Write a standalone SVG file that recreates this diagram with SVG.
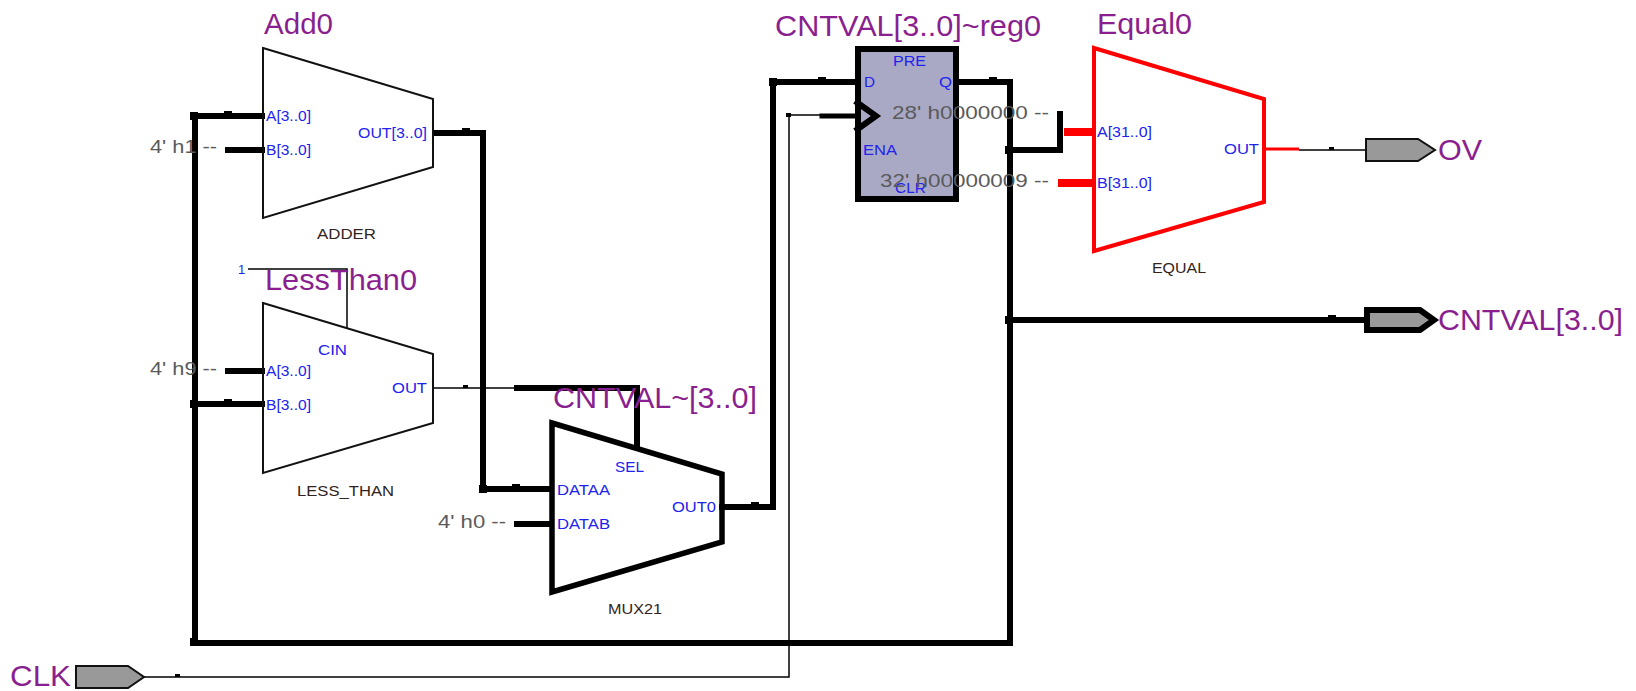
<svg xmlns="http://www.w3.org/2000/svg" width="1636" height="691" viewBox="0 0 1636 691">
<style>
text{font-family:"Liberation Sans",Arial,sans-serif}
.name{font-size:29px;fill:#8a1f8f}
.port{font-size:14.5px;fill:#2222ee}
.val{font-size:18.5px;fill:#5a5a5a}
.type{font-size:14px;fill:#33231c}
.body{fill:none;stroke:#111;stroke-width:2}
.bodyb{fill:none;stroke:#000;stroke-width:5.5}
.bodyr{fill:none;stroke:#f00;stroke-width:4;stroke-linejoin:miter}
.w1{fill:none;stroke:#000;stroke-width:1.5}
.w3{fill:none;stroke:#000;stroke-width:6;stroke-linecap:square}
.wr{fill:none;stroke:#f00;stroke-width:8}
.tick{fill:#000}
.pin{fill:#999;stroke:#111;stroke-width:2}
.pinb{fill:#999;stroke:#000;stroke-width:6}
</style>
<rect width="1636" height="691" fill="#fff"/>
<g id="connectors">
<path class="w3" d="M483 133H437M483 133V489H550"/>
<path class="w3" d="M1010 82V643H195V116H262M195 404H262"/>
<path class="w3" d="M958 82H1010M1010 150H1060V114"/>
<path class="w3" d="M1010 320H1366"/>
<path class="w3" d="M773 507V82H855"/>
<path class="w3" d="M722 507H773"/>
<path class="w3" d="M228 150H262M228 371H262M517 524H550"/>
<path class="w1" d="M248 269H347V328"/>
<path class="w1" d="M433 388H516"/>
<path class="w3" d="M517 388H637V444"/>
<path class="w1" d="M144 677H789V115H822"/>
<path class="w3" d="M822 116H855" style="stroke-width:5"/>
<path class="wr" d="M1064 132H1092M1058 183H1092"/>
<path d="M1264 149H1299" fill="none" stroke="#f00" stroke-width="3"/>
<path class="w1" d="M1299 150H1367"/>
<rect class="tick" x="224" y="111" width="8" height="3"/>
<rect class="tick" x="224" y="399" width="8" height="3"/>
<rect class="tick" x="462" y="128" width="8" height="3"/>
<rect class="tick" x="463" y="385" width="5" height="3"/>
<rect class="tick" x="512" y="484" width="8" height="3"/>
<rect class="tick" x="751" y="502" width="8" height="3"/>
<rect class="tick" x="818" y="77" width="8" height="3"/>
<rect class="tick" x="989" y="77" width="8" height="3"/>
<rect class="tick" x="1328" y="315" width="8" height="3"/>
<rect class="tick" x="1329" y="147" width="5" height="3"/>
<rect class="tick" x="175" y="674" width="5" height="3"/>
<rect class="tick" x="786" y="113" width="5" height="4"/>
<rect class="tick" x="190" y="112" width="8" height="8"/>
<rect class="tick" x="190" y="400" width="8" height="8"/>
<rect class="tick" x="190" y="638" width="8" height="8"/>
<rect class="tick" x="479" y="485" width="8" height="8"/>
<rect class="tick" x="769" y="78" width="8" height="8"/>
<rect class="tick" x="1005" y="146" width="8" height="8"/>
<rect class="tick" x="1005" y="316" width="8" height="8"/>
</g>
<g id="Add0">
<polygon class="body" points="263,48 433,99 433,167 263,218"/>
<text class="name" x="264" y="34" textLength="69" lengthAdjust="spacingAndGlyphs">Add0</text>
<text class="port" x="266" y="121" textLength="45" lengthAdjust="spacingAndGlyphs">A[3..0]</text>
<text class="port" x="266" y="155" textLength="45" lengthAdjust="spacingAndGlyphs">B[3..0]</text>
<text class="port" x="358" y="138" textLength="69" lengthAdjust="spacingAndGlyphs">OUT[3..0]</text>
<text class="val" x="150" y="153" textLength="67" lengthAdjust="spacingAndGlyphs">4' h1 --</text>
<text class="type" x="317" y="239" textLength="59" lengthAdjust="spacingAndGlyphs">ADDER</text>
</g>
<g id="LessThan0">
<polygon class="body" points="263,303 433,354 433,423 263,473"/>
<text class="name" x="265" y="290" textLength="152" lengthAdjust="spacingAndGlyphs">LessThan0</text>
<text class="port" x="238" y="274" style="font-size:13px">1</text>
<text class="port" x="318" y="355" textLength="29" lengthAdjust="spacingAndGlyphs">CIN</text>
<text class="port" x="392" y="393" textLength="35" lengthAdjust="spacingAndGlyphs">OUT</text>
<text class="port" x="266" y="376" textLength="45" lengthAdjust="spacingAndGlyphs">A[3..0]</text>
<text class="port" x="266" y="410" textLength="45" lengthAdjust="spacingAndGlyphs">B[3..0]</text>
<text class="val" x="150" y="375" textLength="67" lengthAdjust="spacingAndGlyphs">4' h9 --</text>
<text class="type" x="297" y="496" textLength="97" lengthAdjust="spacingAndGlyphs">LESS_THAN</text>
</g>
<g id="CNTVAL_mux">
<polygon class="bodyb" points="552,423 722,474 722,542 552,592"/>
<text class="name" x="553" y="408" textLength="204" lengthAdjust="spacingAndGlyphs">CNTVAL~[3..0]</text>
<text class="port" x="615" y="472" textLength="29" lengthAdjust="spacingAndGlyphs">SEL</text>
<text class="port" x="557" y="495" textLength="53" lengthAdjust="spacingAndGlyphs">DATAA</text>
<text class="port" x="557" y="529" textLength="53" lengthAdjust="spacingAndGlyphs">DATAB</text>
<text class="port" x="672" y="512" textLength="44" lengthAdjust="spacingAndGlyphs">OUT0</text>
<text class="val" x="438" y="528" textLength="68" lengthAdjust="spacingAndGlyphs">4' h0 --</text>
<text class="type" x="608" y="614" textLength="54" lengthAdjust="spacingAndGlyphs">MUX21</text>
</g>
<g id="CNTVAL_reg0">
<rect x="858" y="49" width="98" height="150" fill="#a9a9c6" stroke="#000" stroke-width="6"/>
<polyline points="855,101 876,116 855,131" fill="none" stroke="#000" stroke-width="6"/>
<text class="name" x="775" y="36" textLength="266" lengthAdjust="spacingAndGlyphs">CNTVAL[3..0]~reg0</text>
<text class="port" x="893" y="66" textLength="33" lengthAdjust="spacingAndGlyphs">PRE</text>
<text class="port" x="864" y="87" textLength="11" lengthAdjust="spacingAndGlyphs">D</text>
<text class="port" x="939" y="87" textLength="13" lengthAdjust="spacingAndGlyphs">Q</text>
<text class="port" x="863" y="155" textLength="34" lengthAdjust="spacingAndGlyphs">ENA</text>
<text class="port" x="895" y="193" textLength="31" lengthAdjust="spacingAndGlyphs">CLR</text>
<text class="val" x="892" y="119" textLength="157" lengthAdjust="spacingAndGlyphs">28' h0000000 --</text>
<text class="val" x="880" y="187" textLength="169" lengthAdjust="spacingAndGlyphs">32' h00000009 --</text>
</g>
<g id="Equal0">
<polygon class="bodyr" points="1094,48 1264,99 1264,202 1094,251"/>
<text class="name" x="1097" y="34" textLength="95" lengthAdjust="spacingAndGlyphs">Equal0</text>
<text class="port" x="1097" y="137" textLength="55" lengthAdjust="spacingAndGlyphs">A[31..0]</text>
<text class="port" x="1097" y="188" textLength="55" lengthAdjust="spacingAndGlyphs">B[31..0]</text>
<text class="port" x="1224" y="154" textLength="35" lengthAdjust="spacingAndGlyphs">OUT</text>
<text class="type" x="1152" y="273" textLength="54" lengthAdjust="spacingAndGlyphs">EQUAL</text>
</g>
<g id="OV">
<polygon class="pin" points="1366,139 1418,139 1435,150 1418,161 1366,161"/>
<text class="name" x="1438" y="160" textLength="44" lengthAdjust="spacingAndGlyphs">OV</text>
</g>
<g id="CNTVAL">
<polygon class="pinb" points="1367,310 1420,310 1434,320 1420,330 1367,330"/>
<text class="name" x="1438" y="330" textLength="185" lengthAdjust="spacingAndGlyphs">CNTVAL[3..0]</text>
</g>
<g id="CLK">
<polygon class="pin" points="76,666 128,666 144,677 128,688 76,688"/>
<text class="name" x="10" y="686" textLength="61" lengthAdjust="spacingAndGlyphs">CLK</text>
</g>
</svg>
